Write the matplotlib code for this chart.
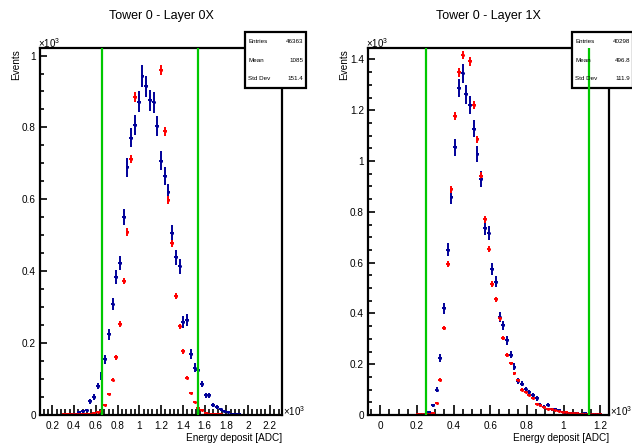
import numpy as np
import matplotlib.pyplot as plt
from matplotlib.ticker import MultipleLocator, FuncFormatter
from matplotlib.patches import Rectangle

plt.rcParams['font.family'] = ['Liberation Sans', 'DejaVu Sans']
plt.rcParams['mathtext.fontset'] = 'custom'
plt.rcParams['mathtext.rm'] = 'Liberation Sans'

NBINS = 65   # both histograms: 65 bins over the drawn x range (units of 10^3 ADC)

# Tower 0 - Layer 0X, contents in 10^3 events, first listed bin = bin 6
x_range_0 = (0.087, 2.312)
first_0 = 6
blue_0 = [0.0005, 0.001, 0.002, 0.004, 0.008, 0.010, 0.013,
          0.038, 0.050, 0.081, 0.109, 0.155, 0.225, 0.309, 0.385, 0.423, 0.551,
          0.689, 0.772, 0.807, 0.872, 0.942, 0.914, 0.875, 0.870, 0.804, 0.708,
          0.665, 0.619, 0.505, 0.439, 0.414, 0.258, 0.265, 0.170, 0.132, 0.125,
          0.086, 0.055, 0.055, 0.027, 0.022, 0.016, 0.011, 0.007, 0.004, 0.003, 0.002]
red_0 = [0.002, 0.002, 0.003, 0.003, 0.004, 0.004, 0.004,
         0.004, 0.005, 0.007, 0.012, 0.028, 0.058, 0.098, 0.160, 0.253, 0.372,
         0.509, 0.712, 0.884, 1.07, 1.15, 1.21, 1.22, 1.16, 1.07, 0.959,
         0.789, 0.598, 0.478, 0.330, 0.247, 0.177, 0.104, 0.061, 0.036, 0.020,
         0.013, 0.006, 0.004, 0.003, 0.002, 0.002, 0.001]
cuts_0 = [0.654, 1.542]
stats_0 = [('Entries', '46363'), ('Mean', '1085'), ('Std Dev', '151.4')]

# Tower 0 - Layer 1X, first listed bin = bin 12
x_range_1 = (-0.067, 1.248)
first_1 = 12
blue_1 = [0.0005, 0.001, 0.002, 0.004, 0.012, 0.038,
          0.099, 0.225, 0.420, 0.651, 0.860, 1.054, 1.289, 1.345, 1.262, 1.222,
          1.127, 1.028, 0.929, 0.737, 0.717, 0.574, 0.525, 0.384, 0.353, 0.294,
          0.238, 0.190, 0.135, 0.124, 0.102, 0.089, 0.079, 0.065, 0.040, 0.032,
          0.040, 0.022, 0.022, 0.020, 0.013, 0.009, 0.006, 0.008, 0.006, 0.005,
          0.006, 0.004, 0.003, 0.002, 0.002, 0.001]
red_1 = [0.001, 0.002, 0.002, 0.002, 0.003, 0.009,
         0.049, 0.139, 0.344, 0.595, 0.889, 1.177, 1.349, 1.418, 1.50, 1.392,
         1.222, 1.085, 0.942, 0.770, 0.654, 0.516, 0.456, 0.380, 0.304, 0.237,
         0.204, 0.165, 0.138, 0.100, 0.092, 0.078, 0.065, 0.045, 0.038, 0.030,
         0.025, 0.022, 0.020, 0.016, 0.012, 0.010, 0.008, 0.007, 0.006, 0.005,
         0.004, 0.003, 0.003, 0.002, 0.002, 0.001]
cuts_1 = [0.248, 1.140]
stats_1 = [('Entries', '40298'), ('Mean', '496.8'), ('Std Dev', '111.9')]

BLUE = '#000099'
RED = '#ff0000'
GREEN = '#00c800'

fig = plt.figure(figsize=(6.32, 4.44), dpi=100)
W, H = 632, 444


def px_axes(x0, x1, y0, y1):
    return fig.add_axes([x0 / W, 1 - y1 / H, (x1 - x0) / W, (y1 - y0) / H])


def fmt(v, pos):
    return f'{v:g}'


def draw(ax, xr, first, blue, red, cuts, ytop, xminor, stats, title):
    bw = (xr[1] - xr[0]) / NBINS
    for vals, col, scale in ((blue, BLUE, 1.0), (red, RED, 0.45)):
        v = np.array(vals)
        x = xr[0] + (first + np.arange(len(v)) + 0.5) * bw
        ax.errorbar(x, v, yerr=scale * np.sqrt(v / 1000), xerr=bw / 2, fmt='o',
                    ms=2.2, mew=0, color=col, ecolor=col, elinewidth=1.4, capsize=0)
    for c in cuts:
        ax.axvline(c, color=GREEN, lw=1.6, zorder=6)
    ax.set_xlim(*xr)
    ax.set_ylim(0, ytop)
    ax.xaxis.set_major_locator(MultipleLocator(0.2))
    ax.xaxis.set_minor_locator(MultipleLocator(xminor))
    ax.yaxis.set_major_locator(MultipleLocator(0.2))
    ax.yaxis.set_minor_locator(MultipleLocator(0.05))
    ax.xaxis.set_major_formatter(FuncFormatter(fmt))
    ax.yaxis.set_major_formatter(FuncFormatter(fmt))
    ax.tick_params(axis='x', which='major', direction='in', length=7.5, width=1.2, labelsize=7.2, pad=4)
    ax.tick_params(axis='x', which='minor', direction='in', length=4, width=1.2)
    ax.tick_params(axis='y', which='major', direction='in', length=5, width=1.2, labelsize=7.2, pad=3)
    ax.tick_params(axis='y', which='minor', direction='in', length=2.8, width=1.2)
    for s in ax.spines.values():
        s.set_linewidth(1.6)

    # statistics box
    bb = ax.get_position()
    ax_w, ax_h = bb.width * W, bb.height * H
    x0 = 0.848
    x1 = x0 + 61 / ax_w
    y1 = 1 + 16 / ax_h
    y0 = y1 - 56 / ax_h
    ax.add_patch(Rectangle((x0, y0), x1 - x0, y1 - y0, transform=ax.transAxes,
                           facecolor='white', edgecolor='black', lw=1.6,
                           clip_on=False, zorder=5))
    for i, (k, v) in enumerate(stats):
        yy = y1 - (9.5 + 18.5 * i) / ax_h
        ax.text(x0 + 3 / ax_w, yy, k, transform=ax.transAxes, fontsize=4.5,
                va='center', ha='left', zorder=7, clip_on=False)
        ax.text(x1 - 3 / ax_w, yy, v, transform=ax.transAxes, fontsize=4.5,
                va='center', ha='right', zorder=7, clip_on=False)

    xl, xr_px = bb.x0 * W, bb.x1 * W
    fig.text(((xl + xr_px) / 2) / W, 1 - 16 / H, title, ha='center', va='center', fontsize=9)
    fig.text((xl - 24) / W, 1 - 49 / H, 'Events', rotation=90, ha='center', va='top', fontsize=7.2)
    fig.text(xr_px / W, 1 - 438 / H, 'Energy deposit [ADC]', ha='right', va='center', fontsize=7.2)
    fig.text((xl - 2) / W, 1 - 43 / H, r'$\times10^{3}$', ha='left', va='center', fontsize=7)
    fig.text((xr_px + 1) / W, 1 - 411 / H, r'$\times10^{3}$', ha='left', va='center', fontsize=7)


ax0 = px_axes(40, 282, 48, 415)
draw(ax0, x_range_0, first_0, blue_0, red_0, cuts_0, 1.021, 0.04, stats_0, 'Tower 0 - Layer 0X')
ax1 = px_axes(368, 609, 48, 415)
draw(ax1, x_range_1, first_1, blue_1, red_1, cuts_1, 1.445, 0.05, stats_1, 'Tower 0 - Layer 1X')

fig.savefig('out.png', dpi=100)
